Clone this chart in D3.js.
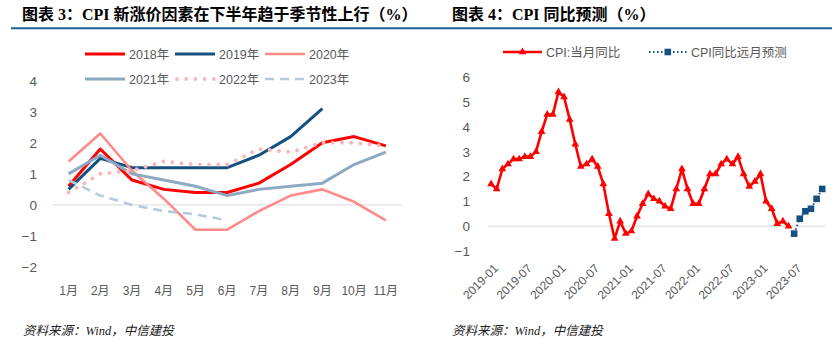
<!DOCTYPE html>
<html>
<head>
<meta charset="utf-8">
<script src="https://cdn.jsdelivr.net/npm/d3@7"></script>
<style>
  body { margin: 0; background: #fff; }
  svg { display: block; }
  text { font-family: "Liberation Sans", "Noto Sans CJK SC", sans-serif; }
  .title { font-family: "Liberation Serif", "Noto Sans CJK SC", serif; font-weight: bold; font-size: 16px; fill: #000; }
  .src { font-family: "Liberation Serif", "Noto Sans CJK SC", serif; font-style: italic; font-size: 12.5px; fill: #222; }
  .tick text { fill: #595959; }
</style>
</head>
<body>
<svg id="canvas"></svg>
<script>
let width = 840;
let height = 351;

// left chart: CPI new price factors by month
let months = ['1月', '2月', '3月', '4月', '5月', '6月', '7月', '8月', '9月', '10月', '11月'];
let s2018 = [0.6, 1.8, 0.8, 0.5, 0.4, 0.4, 0.7, 1.3, 2.0, 2.2, 1.9];
let s2019 = [0.5, 1.5, 1.2, 1.2, 1.2, 1.2, 1.6, 2.2, 3.1];
let s2020 = [1.4, 2.3, 1.1, 0.2, -0.8, -0.8, -0.2, 0.3, 0.5, 0.1, -0.5];
let s2021 = [1.0, 1.6, 1.0, 0.8, 0.6, 0.3, 0.5, 0.6, 0.7, 1.3, 1.7];
let s2022 = [0.4, 1.0, 1.1, 1.4, 1.3, 1.3, 1.8, 1.7, 2.0, 2.0, 1.9];
let s2023 = [0.8, 0.3, 0.0, -0.2, -0.3, -0.5];
let leftTicks = [-2, -1, 0, 1, 2, 3, 4];

// right chart: CPI yoy and forecast
let years = ['2019', '2020', '2021', '2022', '2023'];
let monthNums = ['01', '02', '03', '04', '05', '06', '07', '08', '09', '10', '11', '12'];
let cpiMonths = [];
years.forEach(y => monthNums.forEach(m => cpiMonths.push(y + '-' + m)));
let cpiActual = [
  1.7, 1.5, 2.3, 2.5, 2.7, 2.7, 2.8, 2.8, 3.0, 3.8, 4.5, 4.5,
  5.4, 5.2, 4.3, 3.3, 2.4, 2.5, 2.7, 2.4, 1.7, 0.5, -0.5, 0.2,
  -0.3, -0.2, 0.4, 0.9, 1.3, 1.1, 1.0, 0.8, 0.7, 1.5, 2.3, 1.5,
  0.9, 0.9, 1.5, 2.1, 2.1, 2.5, 2.7, 2.5, 2.8, 2.1, 1.6, 1.8,
  2.1, 1.0, 0.7, 0.1, 0.2, 0.0
];
let forecastMonths = ['2023-07', '2023-08', '2023-09', '2023-10', '2023-11', '2023-12'];
let cpiForecast = [-0.3, 0.3, 0.6, 0.7, 1.1, 1.5];
let rightTickLabels = ['2019-01', '2019-07', '2020-01', '2020-07', '2021-01', '2021-07', '2022-01', '2022-07', '2023-01', '2023-07'];
let rightTicks = [-1, 0, 1, 2, 3, 4, 5, 6];

let seriesLeft = [
  { name: '2018年', values: s2018, color: '#FF0000', w: 3, dash: null },
  { name: '2019年', values: s2019, color: '#15507F', w: 3, dash: null },
  { name: '2020年', values: s2020, color: '#FF8A8A', w: 2.6, dash: null },
  { name: '2021年', values: s2021, color: '#8EA9C2', w: 3, dash: null },
  { name: '2022年', values: s2022, color: '#F7B9B9', w: 4, dash: '0,9.2' },
  { name: '2023年', values: s2023, color: '#B7CADC', w: 2.6, dash: '9,6' }
];

let canvas = d3.select('#canvas').attr('width', width).attr('height', height);

// titles and rule
canvas.append('text').attr('class', 'title').attr('x', 22).attr('y', 20)
  .text('图表 3：CPI 新涨价因素在下半年趋于季节性上行（%）');
canvas.append('text').attr('class', 'title').attr('x', 452).attr('y', 20)
  .text('图表 4：CPI 同比预测（%）');
canvas.append('line').attr('x1', 11).attr('x2', 832).attr('y1', 28.3).attr('y2', 28.3)
  .attr('stroke', '#1F5E99').attr('stroke-width', 2);

canvas.append('text').attr('class', 'src').attr('x', 23).attr('y', 335).text('资料来源：Wind，中信建投');
canvas.append('text').attr('class', 'src').attr('x', 452).attr('y', 335).text('资料来源：Wind，中信建投');

// ---------- left chart ----------
let xLeft = d3.scaleBand().domain(months).range([52.7, 401.7]);
let yLeft = d3.scaleLinear().domain([-2, 4]).range([267, 80.7]);
let cx = (m) => xLeft(m) + xLeft.bandwidth() / 2;

canvas.append('line')
  .attr('x1', 52.7).attr('x2', 401.7)
  .attr('y1', yLeft(0)).attr('y2', yLeft(0))
  .attr('stroke', '#D9D9D9').attr('stroke-width', 1);

let yAxisL = canvas.append('g')
  .attr('transform', 'translate(40, 0)')
  .call(d3.axisLeft(yLeft).tickValues(leftTicks).tickFormat(d3.format('d')).tickSize(0).tickPadding(3));
yAxisL.select('.domain').remove();
yAxisL.selectAll('text').attr('font-size', 13.5).attr('fill', '#595959');

let xAxisL = canvas.append('g')
  .attr('transform', 'translate(0, 282)')
  .call(d3.axisBottom(xLeft).tickSize(0).tickPadding(4));
xAxisL.select('.domain').remove();
xAxisL.selectAll('text').attr('font-size', 12).attr('fill', '#404040');

let lineL = d3.line()
  .x((d, i) => cx(months[i]))
  .y(d => yLeft(d));

seriesLeft.forEach(s => {
  let p = canvas.append('path')
    .datum(s.values)
    .attr('d', lineL)
    .attr('fill', 'none')
    .attr('stroke', s.color)
    .attr('stroke-width', s.w)
    .attr('stroke-linejoin', 'round');
  if (s.dash) {
    p.attr('stroke-dasharray', s.dash);
    if (s.dash.startsWith('0')) p.attr('stroke-linecap', 'round');
  }
});

// left legend
seriesLeft.forEach((s, i) => {
  let col = i % 3;
  let row = Math.floor(i / 3);
  let lx = 85 + col * 90;
  let ly = 54 + row * 25;
  let l = canvas.append('line')
    .attr('x1', lx).attr('x2', lx + 40)
    .attr('y1', ly).attr('y2', ly)
    .attr('stroke', s.color).attr('stroke-width', s.w);
  if (s.dash) {
    l.attr('stroke-dasharray', s.dash);
    if (s.dash.startsWith('0')) l.attr('stroke-linecap', 'round').attr('x1', lx + 2);
  }
  canvas.append('text')
    .attr('x', lx + 44).attr('y', ly + 4.5)
    .attr('font-size', 12.5).attr('fill', '#595959')
    .text(s.name);
});

// ---------- right chart ----------
let xRight = d3.scaleBand().domain(cpiMonths).range([488.3, 825]);
let yRight = d3.scaleLinear().domain([-1, 6]).range([251, 77.2]);
let rx = (m) => xRight(m) + xRight.bandwidth() / 2;

canvas.append('line')
  .attr('x1', 488.3).attr('x2', 825)
  .attr('y1', yRight(0)).attr('y2', yRight(0))
  .attr('stroke', '#D9D9D9').attr('stroke-width', 1);

let yAxisR = canvas.append('g')
  .attr('transform', 'translate(473, 0)')
  .call(d3.axisLeft(yRight).tickValues(rightTicks).tickFormat(d3.format('d')).tickSize(0).tickPadding(3));
yAxisR.select('.domain').remove();
yAxisR.selectAll('text').attr('font-size', 13.5).attr('fill', '#595959');

let xAxisR = canvas.append('g')
  .attr('transform', 'translate(0, 262)')
  .call(d3.axisBottom(xRight).tickValues(rightTickLabels).tickSize(0).tickPadding(0));
xAxisR.select('.domain').remove();
xAxisR.selectAll('text')
  .attr('font-size', 12).attr('fill', '#595959')
  .attr('text-anchor', 'end')
  .attr('dy', '0.35em')
  .attr('transform', 'translate(5, 4) rotate(-45)');

let actualData = cpiActual.map((v, i) => ({ m: cpiMonths[i], v: v }));
let forecastData = cpiForecast.map((v, i) => ({ m: forecastMonths[i], v: v }));

let lineR = d3.line().x(d => rx(d.m)).y(d => yRight(d.v));

canvas.append('path')
  .datum(forecastData)
  .attr('d', lineR)
  .attr('fill', 'none')
  .attr('stroke', '#15507F')
  .attr('stroke-width', 2)
  .attr('stroke-dasharray', '1.5,2.5');

canvas.append('path')
  .datum(actualData)
  .attr('d', lineR)
  .attr('fill', 'none')
  .attr('stroke', '#FF0000')
  .attr('stroke-width', 2.6)
  .attr('stroke-linejoin', 'round');

let tri = d3.symbol().type(d3.symbolTriangle).size(26);
canvas.append('g').selectAll('path')
  .data(actualData)
  .enter()
  .append('path')
  .attr('d', tri)
  .attr('transform', d => 'translate(' + rx(d.m) + ',' + yRight(d.v) + ')')
  .attr('fill', '#FF0000');

canvas.append('g').selectAll('rect')
  .data(forecastData)
  .enter()
  .append('rect')
  .attr('x', d => rx(d.m) - 3.3)
  .attr('y', d => yRight(d.v) - 3.3)
  .attr('width', 6.6)
  .attr('height', 6.6)
  .attr('fill', '#15507F');

// right legend
canvas.append('line').attr('x1', 503).attr('x2', 542).attr('y1', 52).attr('y2', 52)
  .attr('stroke', '#FF0000').attr('stroke-width', 2.6);
canvas.append('path').attr('d', tri).attr('transform', 'translate(522.5,52)').attr('fill', '#FF0000');
canvas.append('text').attr('x', 546).attr('y', 56.5).attr('font-size', 12.5).attr('fill', '#595959')
  .text('CPI:当月同比');

canvas.append('line').attr('x1', 649).attr('x2', 687).attr('y1', 52).attr('y2', 52)
  .attr('stroke', '#15507F').attr('stroke-width', 2).attr('stroke-dasharray', '1.5,2.5');
canvas.append('rect').attr('x', 664.5).attr('y', 48.7).attr('width', 6.6).attr('height', 6.6)
  .attr('fill', '#15507F');
canvas.append('text').attr('x', 691).attr('y', 56.5).attr('font-size', 12.5).attr('fill', '#595959')
  .text('CPI同比远月预测');
</script>
</body>
</html>
